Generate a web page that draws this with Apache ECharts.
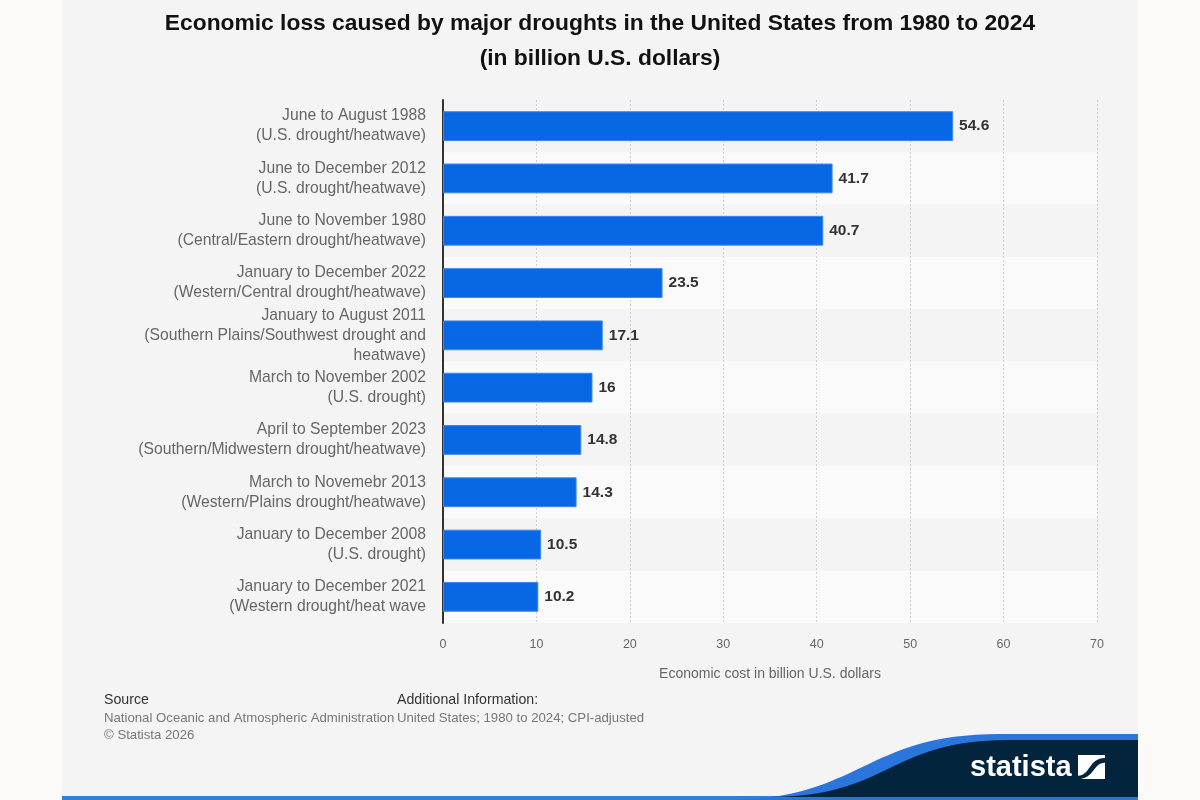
<!DOCTYPE html>
<html>
<head>
<meta charset="utf-8">
<style>
  html, body { margin: 0; padding: 0; background: #fbfaf7; }
  #chart { width: 1200px; height: 800px; }
</style>
<script src="https://cdn.jsdelivr.net/npm/echarts@6/dist/echarts.min.js"></script>
</head>
<body>
<div id="chart"></div>
<script>
// drought events, largest first
const categories = [
  'June to August 1988\n(U.S. drought/heatwave)',
  'June to December 2012\n(U.S. drought/heatwave)',
  'June to November 1980\n(Central/Eastern drought/heatwave)',
  'January to December 2022\n(Western/Central drought/heatwave)',
  'January to August 2011\n(Southern Plains/Southwest drought and\nheatwave)',
  'March to November 2002\n(U.S. drought)',
  'April to September 2023\n(Southern/Midwestern drought/heatwave)',
  'March to Novemebr 2013\n(Western/Plains drought/heatwave)',
  'January to December 2008\n(U.S. drought)',
  'January to December 2021\n(Western drought/heat wave'
];
const lossValues = [54.6, 41.7, 40.7, 23.5, 17.1, 16, 14.8, 14.3, 10.5, 10.2];
const xTicks = { min: 0, max: 70, interval: 10 };

const font = 'Liberation Sans, Arial, sans-serif';

// logo shapes (wave in the bottom right corner)
echarts.graphic.registerShape('logoWave', echarts.graphic.extendShape({
  shape: { x0: 0, x1: 0, top: 0, right: 0, bottom: 0 },
  buildPath(ctx, s) {
    const mid = (s.x0 + s.x1) / 2;
    ctx.moveTo(s.x0, s.bottom);
    ctx.bezierCurveTo(mid, s.bottom, mid, s.top, s.x1, s.top);
    ctx.lineTo(s.right, s.top);
    ctx.lineTo(s.right, s.bottom);
    ctx.closePath();
  }
}));
echarts.graphic.registerShape('logoMark', echarts.graphic.extendShape({
  shape: { x: 0, y: 0, w: 0, h: 0 },
  buildPath(ctx, s) {
    const { x, y, w, h } = s;
    ctx.moveTo(x, y + h * 0.86);
    ctx.bezierCurveTo(x + w * 0.45, y + h * 0.86, x + w * 0.4, y + h * 0.12, x + w, y + h * 0.12);
    ctx.lineTo(x + w, y + h * 0.32);
    ctx.bezierCurveTo(x + w * 0.55, y + h * 0.32, x + w * 0.6, y + h, x, y + h);
    ctx.closePath();
  }
}));

const chart = echarts.init(document.getElementById('chart'));

const option = {
  backgroundColor: '#fbfaf7',
  textStyle: { fontFamily: font },
  title: {
    text: 'Economic loss caused by major droughts in the United States from 1980 to 2024\n(in billion U.S. dollars)',
    left: 'center',
    top: 1,
    textStyle: { fontSize: 22.8, fontWeight: 'bold', color: '#111', lineHeight: 35, fontFamily: font }
  },
  grid: { left: 443, right: 103, top: 100, bottom: 177 },
  xAxis: {
    type: 'value',
    min: xTicks.min,
    max: xTicks.max,
    interval: xTicks.interval,
    name: 'Economic cost in billion U.S. dollars',
    nameLocation: 'middle',
    nameGap: 44,
    nameTextStyle: { color: '#666', fontSize: 14 },
    axisLine: { show: false },
    axisTick: { show: false },
    axisLabel: { color: '#666', fontSize: 12.5, margin: 15 },
    splitLine: { show: true, lineStyle: { color: '#cfcfcf', type: [2, 2], width: 1 } }
  },
  yAxis: {
    type: 'category',
    inverse: true,
    data: categories,
    axisLine: { show: true, lineStyle: { color: '#333', width: 2 } },
    axisTick: { show: false },
    axisLabel: { color: '#666', fontSize: 15.7, lineHeight: 20, margin: 17, align: 'right' },
    splitArea: { show: true, areaStyle: { color: ['#f4f4f4', '#fafafa'] } }
  },
  series: [{
    type: 'bar',
    data: lossValues,
    barWidth: '57%',
    itemStyle: { color: '#0867e5', borderColor: '#3d86ea', borderWidth: 1 },
    label: {
      show: true,
      position: 'right',
      distance: 6,
      color: '#333',
      fontSize: 15.5,
      fontWeight: 'bold'
    }
  }],
  graphic: [
    // card background
    { type: 'rect', z: -10, silent: true, shape: { x: 62, y: 0, width: 1076, height: 800 }, style: { fill: '#f4f4f4' } },
    // bottom strip
    { type: 'rect', z: 5, shape: { x: 62, y: 796, width: 1076, height: 4 }, style: { fill: '#2f7fdc' } },
    // footer texts
    { type: 'text', x: 104, y: 700, style: { text: 'Source', fill: '#333', fontSize: 14.2, verticalAlign: 'middle', fontFamily: font } },
    { type: 'text', x: 104, y: 718, style: { text: 'National Oceanic and Atmospheric Administration', fill: '#777', fontSize: 13.2, verticalAlign: 'middle', fontFamily: font } },
    { type: 'text', x: 104, y: 735, style: { text: '\u00a9 Statista 2026', fill: '#777', fontSize: 13.2, verticalAlign: 'middle', fontFamily: font } },
    { type: 'text', x: 397, y: 700, style: { text: 'Additional Information:', fill: '#333', fontSize: 14.2, verticalAlign: 'middle', fontFamily: font } },
    { type: 'text', x: 397, y: 718, style: { text: 'United States; 1980 to 2024; CPI-adjusted', fill: '#777', fontSize: 13.2, verticalAlign: 'middle', fontFamily: font } },
    // statista logo
    { type: 'logoWave', z: 6, shape: { x0: 725, x1: 1000, top: 734, right: 1138, bottom: 800 }, style: { fill: '#2a76dd' } },
    { type: 'logoWave', z: 7, shape: { x0: 770, x1: 1008, top: 740, right: 1138, bottom: 797 }, style: { fill: '#03243d' } },
    { type: 'text', z: 8, x: 970, y: 768, style: { text: 'statista', fill: '#fff', fontSize: 29, fontWeight: 'bold', verticalAlign: 'middle', fontFamily: 'Liberation Sans Narrow, Liberation Sans, sans-serif' } },
    { type: 'rect', z: 8, shape: { x: 1078, y: 755, width: 27, height: 24 }, style: { fill: '#fff' } },
    { type: 'logoMark', z: 9, shape: { x: 1078, y: 755, w: 27, h: 24 }, style: { fill: '#03243d' } }
  ]
};

chart.setOption(option);
window.addEventListener('resize', () => chart.resize());
</script>
</body>
</html>
